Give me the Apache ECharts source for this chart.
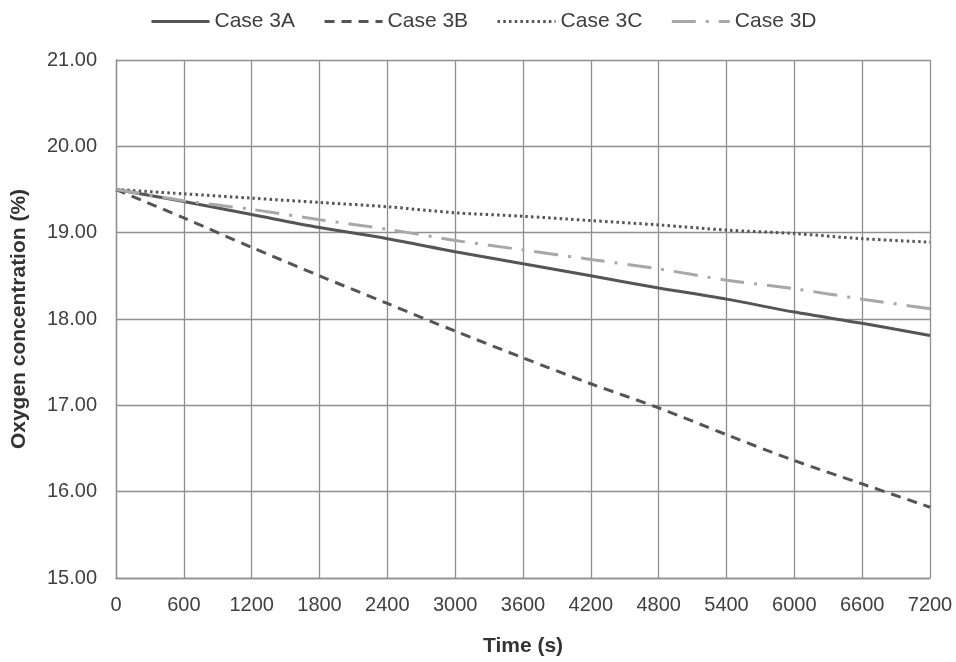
<!DOCTYPE html>
<html>
<head>
<meta charset="utf-8">
<title>Oxygen concentration</title>
<script src="https://cdn.jsdelivr.net/npm/echarts@6/dist/echarts.min.js"></script>
<style>
  html, body { margin: 0; padding: 0; background: #ffffff; }
  #chart { width: 956px; height: 662px; }
</style>
</head>
<body>
<div id="chart"></div>
<script>
// Time axis (s), sampled every 600 s
var times = [0, 600, 1200, 1800, 2400, 3000, 3600, 4200, 4800, 5400, 6000, 6600, 7200];

// Oxygen concentration (%) for each case
var case3A = [19.50, 19.36, 19.21, 19.06, 18.93, 18.78, 18.64, 18.50, 18.36, 18.23, 18.08, 17.95, 17.81];
var case3B = [19.50, 19.17, 18.83, 18.50, 18.18, 17.86, 17.55, 17.25, 16.97, 16.66, 16.36, 16.09, 15.82];
var case3C = [19.50, 19.45, 19.40, 19.35, 19.30, 19.23, 19.19, 19.14, 19.09, 19.03, 18.99, 18.93, 18.89];
var case3D = [19.50, 19.37, 19.27, 19.15, 19.04, 18.91, 18.80, 18.69, 18.58, 18.45, 18.35, 18.23, 18.12];

var seriesNames = ['Case 3A', 'Case 3B', 'Case 3C', 'Case 3D'];

function pairs(values) {
  return times.map(function (t, i) { return [t, values[i]]; });
}

var FONT = '"Liberation Sans", Arial, sans-serif';
var GRID_COLOR = '#8f8f8f';

var chart = echarts.init(document.getElementById('chart'), null, { renderer: 'canvas' });

chart.setOption({
  animation: false,
  backgroundColor: '#ffffff',
  textStyle: { fontFamily: FONT },
  legend: {
    data: seriesNames,
    left: 145,
    top: 6,
    itemWidth: 58,
    itemHeight: 12,
    itemGap: 28,
    // line-only legend keys (no marker in the middle), drawn as thick as the series
    itemStyle: { opacity: 0 },
    lineStyle: { width: 3 },
    textStyle: { fontFamily: FONT, fontSize: 21, color: '#404040' }
  },
  grid: { left: 116, right: 26, top: 60, bottom: 81, containLabel: false },
  xAxis: {
    type: 'value',
    min: 0,
    max: 7200,
    interval: 600,
    name: 'Time (s)',
    nameLocation: 'middle',
    nameGap: 58,
    nameTextStyle: { fontFamily: FONT, fontSize: 21, fontWeight: 'bold', color: '#333333' },
    axisLine: { show: true, lineStyle: { color: GRID_COLOR, width: 1.3 } },
    axisTick: { show: false },
    axisLabel: {
      fontFamily: FONT, fontSize: 20, color: '#404040', margin: 17,
      formatter: function (v) { return String(v); }
    },
    splitLine: { show: true, lineStyle: { color: GRID_COLOR, width: 1.3 } }
  },
  yAxis: {
    type: 'value',
    min: 15,
    max: 21,
    interval: 1,
    name: 'Oxygen concentration (%)',
    nameLocation: 'middle',
    nameGap: 86,
    nameRotate: 90,
    nameTextStyle: { fontFamily: FONT, fontSize: 21, fontWeight: 'bold', color: '#333333' },
    axisLine: { show: true, lineStyle: { color: GRID_COLOR, width: 1.3 } },
    axisTick: { show: false },
    axisLabel: {
      fontFamily: FONT, fontSize: 20, color: '#404040', margin: 19,
      formatter: function (v) { return v.toFixed(2); }
    },
    splitLine: { show: true, lineStyle: { color: GRID_COLOR, width: 1.3 } }
  },
  series: [
    {
      name: 'Case 3A', type: 'line', data: pairs(case3A),
      symbol: 'none', smooth: 0.3,
      color: '#555555',
      lineStyle: { color: '#555555', width: 3, type: 'solid' }
    },
    {
      name: 'Case 3B', type: 'line', data: pairs(case3B),
      symbol: 'none', smooth: 0.3,
      color: '#555555',
      lineStyle: { color: '#555555', width: 3, type: [10, 7] }
    },
    {
      name: 'Case 3C', type: 'line', data: pairs(case3C),
      symbol: 'none', smooth: 0.3,
      color: '#555555',
      lineStyle: { color: '#555555', width: 3, type: [2.5, 3.2] }
    },
    {
      name: 'Case 3D', type: 'line', data: pairs(case3D),
      symbol: 'none', smooth: 0.3,
      color: '#a8a8a8',
      lineStyle: { color: '#a8a8a8', width: 3, type: [24, 10, 3, 10] }
    }
  ]
});
</script>
</body>
</html>
